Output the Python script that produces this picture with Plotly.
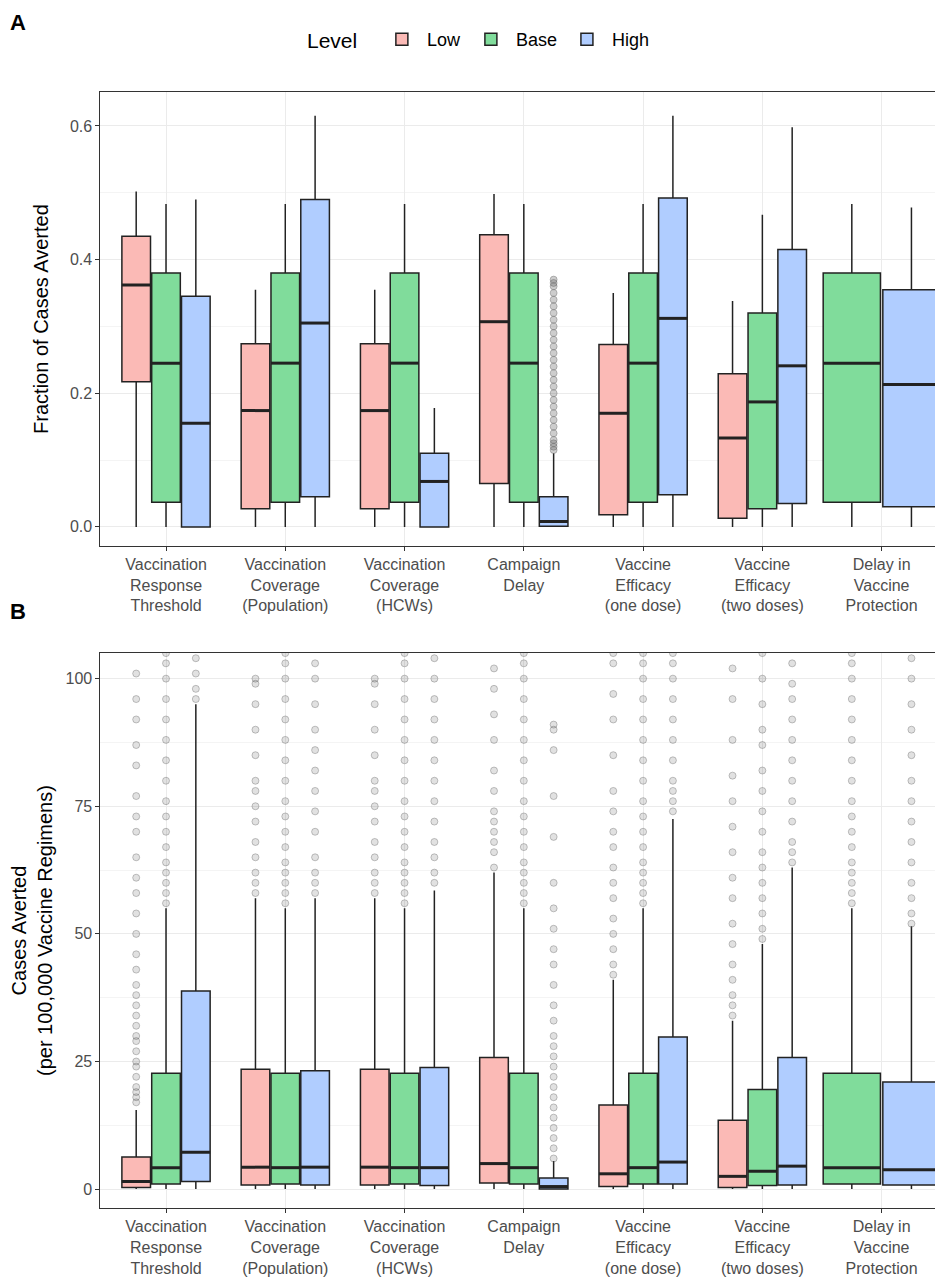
import plotly.graph_objects as go

categories = ["Vaccination<br>Response<br>Threshold", "Vaccination<br>Coverage<br>(Population)",
              "Vaccination<br>Coverage<br>(HCWs)", "Campaign<br>Delay", "Vaccine<br>Efficacy<br>(one dose)",
              "Vaccine<br>Efficacy<br>(two doses)", "Delay in<br>Vaccine<br>Protection"]
levels = ["Low", "Base", "High"]
fills = {"Low": "#FBBAB6", "Base": "#80DC9B", "High": "#B0CDFF"}

# Panel A stats: [lower, q1, median, q3, upper] per category (None = absent)
A_low = [[0, .217, .362, .435, .502], [0, .027, .174, .274, .355], [0, .027, .174, .274, .355],
         [0, .065, .307, .437, .498], [0, .018, .170, .273, .350], [0, .013, .133, .229, .338], None]
A_base = [[0, .037, .245, .380, .483]] * 5 + [[0, .027, .187, .320, .467], [0, .037, .245, .380, .483]]
A_high = [[0, 0, .155, .345, .490], [0, .045, .305, .490, .615], [0, 0, .068, .110, .178],
          [0, .001, .008, .045, .110], [0, .048, .312, .492, .615], [0, .035, .241, .415, .598],
          [0, .030, .213, .355, .478]]
A_out_high_delay = [.115, .12, .125, .13, .14, .15, .16, .17, .18, .19, .2, .21, .22, .23, .24,
                    .25, .26, .27, .28, .29, .3, .31, .32, .33, .34, .35, .36, .365, .37]

# Panel B stats
B_low = [[0, .3, 1.5, 6.3, 15.5], [0, .8, 4.3, 23.5, 57], [0, .8, 4.3, 23.5, 57],
         [0, 1.2, 5.0, 25.8, 62], [0, .5, 3.0, 16.5, 41], [0, .3, 2.5, 13.5, 33], None]
B_base = [[0, 1, 4.2, 22.7, 55]] * 5 + [[0, .7, 3.5, 19.5, 48], [0, 1, 4.2, 22.7, 55]]
B_high = [[0, 1.5, 7.2, 38.8, 95], [0, .8, 4.3, 23.2, 57], [0, .7, 4.2, 23.8, 58.5],
          [0, 0, .5, 2.2, 5.5], [0, 1, 5.3, 29.8, 72.5], [0, .8, 4.5, 25.8, 63], [0, .8, 3.8, 21, 51.5]]
B_out_low = [[17, 18, 19, 20, 22, 24, 25, 27, 29, 30, 32, 34, 36, 38, 40, 43, 46, 50, 54, 58, 61, 65, 70, 73, 77, 83, 87, 92, 96, 101],
             [58, 60, 62, 65, 68, 72, 75, 78, 80, 85, 90, 95, 99, 100],
             [58, 60, 62, 65, 68, 72, 75, 78, 80, 85, 90, 95, 99, 100],
             [63, 66, 68, 70, 72, 74, 78, 82, 88, 93, 98, 102],
             [42, 44, 47, 50, 53, 57, 60, 63, 67, 70, 74, 78, 85, 92, 97, 103, 105],
             [34, 36, 38, 41, 44, 48, 52, 57, 61, 66, 71, 76, 81, 88, 96, 102], None]
B_out_base = [[56, 58, 60, 62, 64, 67, 70, 73, 76, 80, 84, 88, 92, 96, 100, 103, 105]] * 5 + \
             [[49, 51, 54, 57, 60, 63, 66, 70, 74, 78, 82, 87, 90, 95, 100, 105],
              [56, 58, 60, 62, 64, 67, 70, 73, 76, 80, 84, 88, 92, 96, 100, 103, 105]]
B_out_high = [[96, 98, 101, 104],
              [58, 60, 62, 65, 70, 74, 78, 82, 86, 90, 95, 100, 103],
              [60, 62, 65, 68, 72, 76, 80, 84, 88, 92, 96, 100, 104],
              [6, 8, 10, 12, 14, 16, 18, 20, 22, 24, 26, 28, 30, 33, 36, 40, 44, 47, 51, 55, 60, 69, 77, 86, 90, 91],
              [74, 76, 78, 80, 84, 88, 92, 96, 100, 103, 105],
              [64, 66, 68, 72, 76, 80, 84, 88, 92, 96, 99, 103],
              [52, 54, 57, 60, 64, 68, 72, 76, 80, 85, 90, 95, 100, 104]]

fig = go.Figure()
line_c = "#222222"

def positions(ci, present):
    n = len(present)
    if n == 3:
        return {lv: ci + (i - 1) * 0.25 for i, lv in enumerate(present)}, 0.24
    return {lv: ci + (i - 0.5) * 0.5 for i, lv in enumerate(present)}, 0.48

def add_panel(stats, outs, xa, ya, show, oc, yr):
    for ci in range(len(categories)):
        present = [lv for lv in levels if stats[lv][ci] is not None]
        pos, w = positions(ci, present)
        for lv in present:
            lo, q1, md, q3, up = stats[lv][ci]
            fig.add_trace(go.Box(x=[pos[lv]], q1=[q1], median=[md], q3=[q3], lowerfence=[lo],
                                 upperfence=[up], width=w, fillcolor=fills[lv], whiskerwidth=0,
                                 line=dict(color=line_c, width=1.5), name=lv, legendgroup=lv,
                                 showlegend=show and ci == 0, boxpoints=False, xaxis=xa, yaxis=ya,
                                 hoverinfo="skip"))
            # thicker median bar as in ggplot
            fig.add_trace(go.Scatter(x=[pos[lv] - w / 2, pos[lv] + w / 2], y=[md, md], mode="lines",
                                     line=dict(color=line_c, width=3), showlegend=False,
                                     xaxis=xa, yaxis=ya, hoverinfo="skip"))
            o = outs.get(lv)
            if o and o[ci]:
                fig.add_trace(go.Scatter(x=[pos[lv]] * len(o[ci]), y=o[ci], mode="markers",
                                         marker=dict(color=oc, size=7, line=dict(width=1, color="rgba(90,90,90,0.35)")),
                                         showlegend=False, xaxis=xa, yaxis=ya, hoverinfo="skip", cliponaxis=True))

add_panel({"Low": A_low, "Base": A_base, "High": A_high},
          {"High": [None, None, None, A_out_high_delay, None, None, None]}, "x", "y", True, "rgba(90,90,90,0.3)", None)
add_panel({"Low": B_low, "Base": B_base, "High": B_high},
          {"Low": B_out_low, "Base": B_out_base, "High": B_out_high}, "x2", "y2", False, "rgba(90,90,90,0.18)", None)

ax = dict(showline=True, linecolor="#333333", mirror=True, gridcolor="#EBEBEB", zeroline=False,
          tickfont=dict(size=16, color="#4D4D4D", family="Arial, Liberation Sans"), ticks="outside",
          ticklen=4, tickcolor="#333333")
xax = dict(ax, range=[-0.55, 6.55], tickvals=list(range(7)), ticktext=categories, showgrid=True)
fig.update_layout(
    width=943, height=1280, margin=dict(l=0, r=0, t=0, b=0), plot_bgcolor="white", paper_bgcolor="white",
    xaxis=dict(xax, domain=[0.098, 0.996], anchor="y"),
    yaxis=dict(ax, domain=[0.580, 0.934], range=[-0.028, 0.65], tickvals=[0, .2, .4, .6],
               ticktext=["0.0", "0.2", "0.4", "0.6"], anchor="x",
               minor=dict(tickvals=[.1, .3, .5], showgrid=True, gridcolor="#F4F4F4"),
               title=dict(text="Fraction of Cases Averted", font=dict(size=20, color="black"))),
    xaxis2=dict(xax, domain=[0.098, 0.996], anchor="y2"),
    yaxis2=dict(ax, domain=[0.0625, 0.496], range=[-3.7, 105], tickvals=[0, 25, 50, 75, 100], anchor="x2",
                minor=dict(tickvals=[12.5, 37.5, 62.5, 87.5], showgrid=True, gridcolor="#F4F4F4"),
                title=dict(text="Cases Averted<br>(per 100,000 Vaccine Regimens)", font=dict(size=20, color="black"))),
    legend=dict(orientation="h", x=0.5, xanchor="center", y=0.975, yanchor="middle",
                title=dict(text="Level  ", font=dict(size=21)), font=dict(size=18), itemwidth=40),
    font=dict(family="Arial, Liberation Sans", color="black"),
    annotations=[dict(text="<b>A</b>", x=0.0, y=1.0, xref="paper", yref="paper", xanchor="left", yanchor="top",
                      showarrow=False, font=dict(size=22)),
                 dict(text="<b>B</b>", x=0.0, y=0.54, xref="paper", yref="paper", xanchor="left", yanchor="top",
                      showarrow=False, font=dict(size=22))],
)
fig.write_html("out.html")
